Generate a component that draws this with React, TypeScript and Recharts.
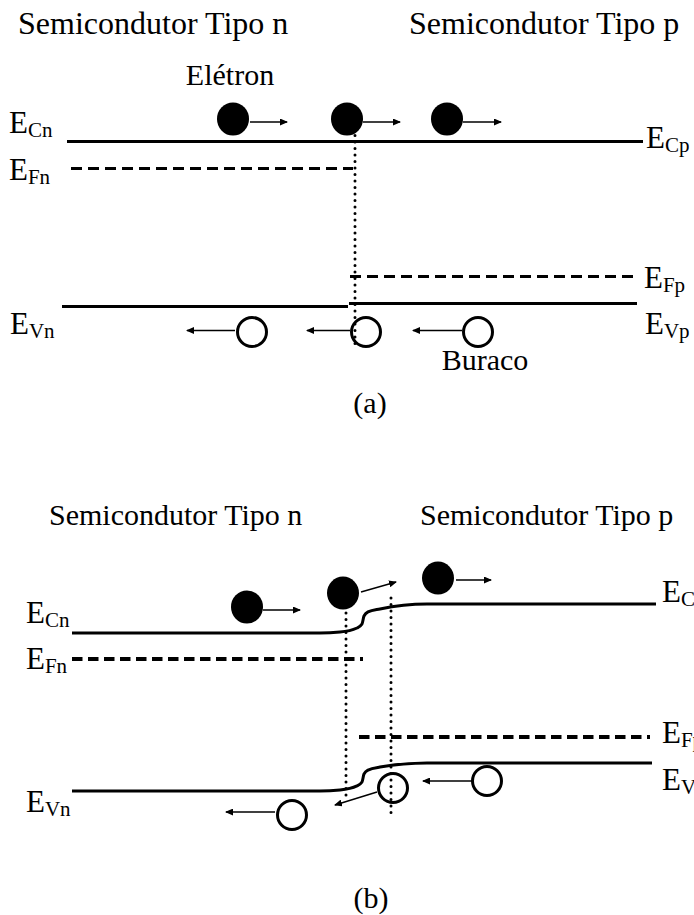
// p-n junction band diagram: (a) separate semiconductors, (b) after contact
// Two stacked Recharts panels; x is position (arbitrary units, junction near 0), y is energy (eV)

import React from "react";
import { ComposedChart, Line, Scatter, XAxis, YAxis, ReferenceDot } from "recharts";

type Pt = { x: number; y: number };

// ---- panel (a) ----
const ecA: Pt[] = [{ x: -2.88, y: 1.09 }, { x: 2.88, y: 1.09 }];
const efnA: Pt[] = [{ x: -2.84, y: 0.91 }, { x: -0.02, y: 0.91 }];
const efpA: Pt[] = [{ x: -0.05, y: 0.19 }, { x: 2.81, y: 0.19 }];
const evnA: Pt[] = [{ x: -2.93, y: -0.01 }, { x: -0.07, y: -0.01 }];
const evpA: Pt[] = [{ x: -0.06, y: 0.01 }, { x: 2.82, y: 0.01 }];
const junctionA: Pt[] = [{ x: 0, y: 1.13 }, { x: 0, y: -0.27 }];
const electronsA: Pt[] = [{ x: -1.22, y: 1.24 }, { x: -0.08, y: 1.24 }, { x: 0.92, y: 1.24 }];
const holesA: Pt[] = [{ x: -1.03, y: -0.18 }, { x: 0.11, y: -0.18 }, { x: 1.23, y: -0.18 }];
const electronArrowsA: Pt[][] = [
  [{ x: -1.05, y: 1.22 }, { x: -0.68, y: 1.22 }],
  [{ x: 0.08, y: 1.22 }, { x: 0.45, y: 1.22 }],
  [{ x: 1.08, y: 1.22 }, { x: 1.46, y: 1.22 }],
];
const holeArrowsA: Pt[][] = [
  [{ x: -1.2, y: -0.17 }, { x: -1.68, y: -0.17 }],
  [{ x: -0.05, y: -0.17 }, { x: -0.48, y: -0.17 }],
  [{ x: 1.07, y: -0.17 }, { x: 0.58, y: -0.17 }],
];

// ---- panel (b) ----
const ecB: Pt[] = [
  { x: -2.83, y: 0.867 }, { x: -0.35, y: 0.867 }, { x: -0.15, y: 0.873 }, { x: 0.02, y: 0.9 },
  { x: 0.07, y: 0.927 }, { x: 0.09, y: 0.98 }, { x: 0.13, y: 1.007 }, { x: 0.25, y: 1.027 },
  { x: 0.72, y: 1.06 }, { x: 3.01, y: 1.06 },
];
const evB: Pt[] = [
  { x: -2.83, y: -0.187 }, { x: -0.35, y: -0.187 }, { x: -0.15, y: -0.18 }, { x: 0.02, y: -0.153 },
  { x: 0.07, y: -0.127 }, { x: 0.09, y: -0.073 }, { x: 0.13, y: -0.047 }, { x: 0.25, y: -0.027 },
  { x: 0.72, y: 0 }, { x: 2.97, y: 0 },
];
const efnB: Pt[] = [{ x: -2.83, y: 0.693 }, { x: 0.08, y: 0.693 }];
const efpB: Pt[] = [{ x: 0.04, y: 0.173 }, { x: 2.95, y: 0.173 }];
const edgeNB: Pt[] = [{ x: -0.09, y: 1.0 }, { x: -0.09, y: -0.247 }];
const edgePB: Pt[] = [{ x: 0.36, y: 1.1 }, { x: 0.36, y: -0.347 }];
const electronsB: Pt[] = [{ x: -1.08, y: 1.04 }, { x: -0.12, y: 1.133 }, { x: 0.83, y: 1.233 }];
const holesB: Pt[] = [{ x: -0.63, y: -0.347 }, { x: 0.38, y: -0.167 }, { x: 1.32, y: -0.12 }];
const electronArrowsB: Pt[][] = [
  [{ x: -0.92, y: 1.02 }, { x: -0.55, y: 1.02 }],
  [{ x: 0.06, y: 1.14 }, { x: 0.41, y: 1.207 }],
  [{ x: 1.01, y: 1.22 }, { x: 1.36, y: 1.22 }],
];
const holeArrowsB: Pt[][] = [
  [{ x: -0.8, y: -0.327 }, { x: -1.29, y: -0.327 }],
  [{ x: 0.22, y: -0.193 }, { x: -0.2, y: -0.28 }],
  [{ x: 1.17, y: -0.12 }, { x: 0.68, y: -0.12 }],
];

const SERIF = "'Liberation Serif', 'Times New Roman', serif";

function EText({ x, y, sub }: { x: number; y: number; sub: string }) {
  return (
    <text x={x} y={y} style={{ fontFamily: SERIF }} fontSize={31} fill="#000">
      E<tspan fontSize={21} dy={4}>{sub}</tspan>
    </text>
  );
}

// label drawn next to a band end, offset in pixels from the point
const bandLabel = (sub: string, dx: number, dy: number) => (props: any) => {
  const vb = props.viewBox || {};
  return <EText x={vb.x + dx} y={vb.y + dy} sub={sub} />;
};

const wordLabel = (text: string, dx: number, dy: number) => (props: any) => {
  const vb = props.viewBox || {};
  return (
    <text x={vb.x + dx} y={vb.y + dy} textAnchor="middle" style={{ fontFamily: SERIF }} fontSize={30} fill="#000">
      {text}
    </text>
  );
};

const Electron = (p: any) => <ellipse cx={p.cx} cy={p.cy} rx={16} ry={16.5} fill="#000" />;
const Hole = (p: any) => <ellipse cx={p.cx} cy={p.cy} rx={14.5} ry={14.5} fill="none" stroke="#000" strokeWidth={3} />;

const lineBase = { dataKey: "y", dot: false, activeDot: false, isAnimationActive: false, legendType: "none" as const };

export default function App() {
  const axes = [
    <XAxis key="x" type="number" dataKey="x" domain={[-3.5, 3.3]} hide allowDataOverflow />,
    <YAxis key="y" type="number" dataKey="y" domain={[-1, 2]} hide allowDataOverflow />,
  ];

  return (
    <div style={{ position: "absolute", left: 0, top: 0, width: 694, height: 915, background: "#fff", overflow: "hidden" }}>
      <svg width={694} height={915} style={{ position: "absolute", left: 0, top: 0, pointerEvents: "none" }}>
        <defs>
          <marker id="arrowHead" viewBox="0 0 8 7" refX={7} refY={3.5} markerWidth={8} markerHeight={7} markerUnits="userSpaceOnUse" orient="auto">
            <path d="M0,0 L8,3.5 L0,7 z" fill="#000" />
          </marker>
        </defs>
        <g style={{ fontFamily: SERIF }} fill="#000">
          <text x={18} y={34} fontSize={32}>Semicondutor Tipo n</text>
          <text x={409} y={34} fontSize={32}>Semicondutor Tipo p</text>
          <text x={370} y={413} fontSize={30} textAnchor="middle">(a)</text>
          <text x={49} y={525} fontSize={30}>Semicondutor Tipo n</text>
          <text x={420} y={525} fontSize={30}>Semicondutor Tipo p</text>
          <text x={371} y={908} fontSize={30} textAnchor="middle">(b)</text>
        </g>
      </svg>

      {/* (a) before contact */}
      <div style={{ position: "absolute", left: 0, top: 0 }}>
        <ComposedChart width={694} height={460} margin={{ top: 5, right: 9, bottom: 5, left: 5 }}>
          {axes}
          <Line {...lineBase} data={ecA} stroke="#000" strokeWidth={3} />
          <Line {...lineBase} data={evnA} stroke="#000" strokeWidth={3} />
          <Line {...lineBase} data={evpA} stroke="#000" strokeWidth={3} />
          <Line {...lineBase} data={efnA} stroke="#000" strokeWidth={3} strokeDasharray="11 6" />
          <Line {...lineBase} data={efpA} stroke="#000" strokeWidth={3} strokeDasharray="11 6" />
          <Line {...lineBase} data={junctionA} stroke="#000" strokeWidth={3} strokeDasharray="0 6.5" strokeLinecap="round" />
          {electronArrowsA.concat(holeArrowsA).map((a, i) => (
            <Line key={"aa" + i} {...lineBase} data={a} stroke="#000" strokeWidth={1.5} markerEnd="url(#arrowHead)" />
          ))}
          <Scatter data={electronsA} shape={Electron} isAnimationActive={false} legendType="none" />
          <Scatter data={holesA} shape={Hole} isAnimationActive={false} legendType="none" />
          <ReferenceDot x={ecA[0].x} y={ecA[0].y} r={0} stroke="none" label={{ content: bandLabel("Cn", -58, -9) }} />
          <ReferenceDot x={ecA[1].x} y={ecA[1].y} r={0} stroke="none" label={{ content: bandLabel("Cp", 3, 6) }} />
          <ReferenceDot x={efnA[0].x} y={efnA[0].y} r={0} stroke="none" label={{ content: bandLabel("Fn", -62, 11) }} />
          <ReferenceDot x={efpA[1].x} y={efpA[1].y} r={0} stroke="none" label={{ content: bandLabel("Fp", 8, 11) }} />
          <ReferenceDot x={evnA[0].x} y={evnA[0].y} r={0} stroke="none" label={{ content: bandLabel("Vn", -52, 27) }} />
          <ReferenceDot x={evpA[1].x} y={evpA[1].y} r={0} stroke="none" label={{ content: bandLabel("Vp", 8, 30) }} />
          <ReferenceDot x={electronsA[0].x} y={electronsA[0].y} r={0} stroke="none" label={{ content: wordLabel("Elétron", -3, -34) }} />
          <ReferenceDot x={holesA[2].x} y={holesA[2].y} r={0} stroke="none" label={{ content: wordLabel("Buraco", 7, 38) }} />
        </ComposedChart>
      </div>

      {/* (b) after contact */}
      <div style={{ position: "absolute", left: 0, top: 460 }}>
        <ComposedChart width={694} height={455} margin={{ top: 3, right: 9, bottom: 2, left: 5 }}>
          {axes}
          <Line {...lineBase} data={ecB} type="monotone" stroke="#000" strokeWidth={3} />
          <Line {...lineBase} data={evB} type="monotone" stroke="#000" strokeWidth={3} />
          <Line {...lineBase} data={efnB} stroke="#000" strokeWidth={4} strokeDasharray="10.5 5.5" />
          <Line {...lineBase} data={efpB} stroke="#000" strokeWidth={4} strokeDasharray="10.5 5.5" />
          <Line {...lineBase} data={edgeNB} stroke="#000" strokeWidth={3} strokeDasharray="0 6.5" strokeLinecap="round" />
          <Line {...lineBase} data={edgePB} stroke="#000" strokeWidth={3} strokeDasharray="0 6.5" strokeLinecap="round" />
          {electronArrowsB.concat(holeArrowsB).map((a, i) => (
            <Line key={"ab" + i} {...lineBase} data={a} stroke="#000" strokeWidth={1.5} markerEnd="url(#arrowHead)" />
          ))}
          <Scatter data={electronsB} shape={Electron} isAnimationActive={false} legendType="none" />
          <Scatter data={holesB} shape={Hole} isAnimationActive={false} legendType="none" />
          <ReferenceDot x={ecB[0].x} y={ecB[0].y} r={0} stroke="none" label={{ content: bandLabel("Cn", -46, -10) }} />
          <ReferenceDot x={ecB[9].x} y={ecB[9].y} r={0} stroke="none" label={{ content: bandLabel("Cp", 6, -2) }} />
          <ReferenceDot x={efnB[0].x} y={efnB[0].y} r={0} stroke="none" label={{ content: bandLabel("Fn", -46, 10) }} />
          <ReferenceDot x={efpB[1].x} y={efpB[1].y} r={0} stroke="none" label={{ content: bandLabel("Fp", 12, 6) }} />
          <ReferenceDot x={evB[0].x} y={evB[0].y} r={0} stroke="none" label={{ content: bandLabel("Vn", -46, 21) }} />
          <ReferenceDot x={evB[9].x} y={evB[9].y} r={0} stroke="none" label={{ content: bandLabel("Vp", 10, 27) }} />
        </ComposedChart>
      </div>
    </div>
  );
}
